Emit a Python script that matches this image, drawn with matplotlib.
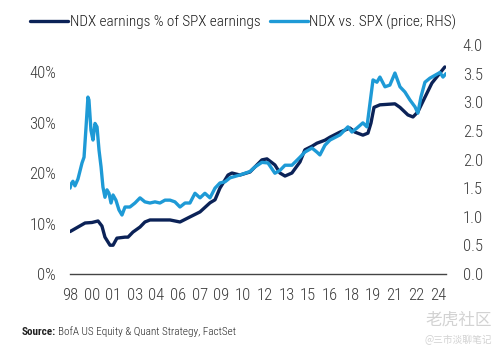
import matplotlib
matplotlib.use("Agg")
import matplotlib.pyplot as plt
from matplotlib import font_manager

# NDX earnings as % of SPX earnings (left axis)
earn_year = [1998.92, 1999.47, 1999.96, 2000.44, 2000.86, 2001.13, 2001.34, 2001.69, 2001.90,
             2002.17, 2002.73, 2002.94, 2003.28, 2003.77, 2004.11, 2004.46, 2005.15, 2005.85,
             2006.54, 2007.23, 2007.93, 2008.62, 2008.97, 2009.31, 2009.87, 2010.14, 2010.70,
             2011.39, 2012.22, 2012.57, 2013.12, 2013.47, 2013.82, 2014.30, 2014.86, 2015.20,
             2015.69, 2016.03, 2016.59, 2016.94, 2017.63, 2018.32, 2018.67, 2019.22, 2019.57,
             2019.78, 2019.99, 2020.40, 2021.44, 2021.79, 2022.34, 2022.69, 2023.03, 2023.52,
             2024.00, 2024.56, 2024.90]
earn_pct = [8.4, 9.3, 10.1, 10.2, 10.5, 9.5, 7.3, 5.7, 5.7,
            7.1, 7.3, 7.3, 8.3, 9.3, 10.3, 10.7, 10.7, 10.7,
            10.3, 11.3, 12.3, 14.1, 14.7, 17.0, 19.6, 20.0, 19.6,
            20.2, 22.6, 22.8, 21.6, 20.0, 19.4, 20.0, 22.2, 24.6,
            25.3, 25.9, 26.5, 27.1, 28.1, 28.9, 28.1, 27.5, 27.9,
            29.9, 33.0, 33.5, 33.7, 33.0, 31.5, 31.1, 32.1, 35.0,
            37.8, 39.8, 41.0]

# NDX vs SPX relative price (right axis)
px_year = [1998.92, 1998.99, 1999.12, 1999.26, 1999.47, 1999.75, 1999.89, 2000.03, 2000.16,
           2000.23, 2000.37, 2000.51, 2000.65, 2000.79, 2000.93, 2001.07, 2001.20, 2001.34,
           2001.48, 2001.62, 2001.76, 2001.90, 2002.10, 2002.31, 2002.52, 2002.73, 2003.07,
           2003.42, 2003.77, 2004.11, 2004.46, 2004.81, 2005.15, 2005.50, 2005.85, 2006.19,
           2006.54, 2006.89, 2007.23, 2007.58, 2007.93, 2008.27, 2008.62, 2008.97, 2009.31,
           2009.66, 2010.01, 2010.70, 2011.39, 2011.74, 2012.22, 2012.64, 2013.12, 2013.47,
           2013.82, 2014.30, 2014.86, 2015.20, 2015.69, 2016.03, 2016.24, 2016.59, 2016.94,
           2017.63, 2018.18, 2018.46, 2018.81, 2019.22, 2019.50, 2019.71, 2019.92, 2020.19,
           2020.40, 2020.75, 2021.09, 2021.44, 2021.79, 2022.13, 2022.48, 2022.83, 2023.03,
           2023.24, 2023.52, 2023.86, 2024.21, 2024.56, 2024.77, 2024.98]
px_ratio = [1.50, 1.57, 1.62, 1.54, 1.66, 1.94, 2.04, 2.57, 3.09,
            3.04, 2.51, 2.34, 2.63, 2.57, 2.16, 1.87, 1.52, 1.34,
            1.47, 1.41, 1.24, 1.38, 1.29, 1.12, 1.03, 1.17, 1.17,
            1.24, 1.33, 1.26, 1.24, 1.26, 1.24, 1.29, 1.29, 1.26,
            1.17, 1.24, 1.24, 1.41, 1.33, 1.41, 1.33, 1.50, 1.59,
            1.61, 1.68, 1.73, 1.79, 1.87, 1.95, 1.94, 1.76, 1.81,
            1.90, 1.90, 2.04, 2.13, 2.20, 2.13, 2.08, 2.25, 2.34,
            2.43, 2.57, 2.48, 2.55, 2.64, 2.57, 2.98, 3.39, 3.35,
            3.44, 3.27, 3.30, 3.51, 3.27, 3.18, 3.04, 2.92, 2.81,
            3.09, 3.35, 3.42, 3.47, 3.52, 3.44, 3.50]

xtick_pos = [1998.917 + 1.5 * i for i in range(18)]
xtick_labels = ['98', '00', '01', '03', '04', '06', '07', '09', '10',
                '12', '13', '15', '16', '18', '19', '21', '22', '24']
left_ticks = [0, 10, 20, 30, 40]
right_ticks = [0.0, 0.5, 1.0, 1.5, 2.0, 2.5, 3.0, 3.5, 4.0]

# a narrow face if one is around, else Roboto
fonts = font_manager.fontManager.ttflist
names = {f.name for f in fonts}
base = 'Roboto'
for cand in ['Liberation Sans Narrow', 'Roboto Condensed', 'Open Sans Condensed']:
    if cand in names:
        base = cand
        break
light_ok = any(f.name == base and f.weight in (300, 'light') for f in fonts)
plt.rcParams['font.family'] = [base, 'DejaVu Sans']
if light_ok:
    plt.rcParams['font.weight'] = 'light'

dark = '#0b2257'
light = '#1e9ad6'
txt = '#3a3a3a'

fig = plt.figure(figsize=(4.99, 3.52), dpi=100)
ax = fig.add_axes([70 / 499, 1 - 274 / 352, 376 / 499, 229 / 352])
ax2 = ax.twinx()

l1, = ax.plot(earn_year, earn_pct, color=dark, lw=2.4, solid_capstyle='round')
l2, = ax2.plot(px_year, px_ratio, color=light, lw=2.4, solid_capstyle='round')

ax.set_xlim(1998.92, 2024.98)
ax.set_ylim(0, 45.35)
ax2.set_ylim(0, 4.0)

ax.set_xticks(xtick_pos)
ax.set_xticklabels(xtick_labels)
ax.set_yticks(left_ticks)
ax.set_yticklabels([f'{v}%' for v in left_ticks])
ax2.set_yticks(right_ticks)
ax2.set_yticklabels([f'{v:.1f}' for v in right_ticks])

for a in (ax, ax2):
    for s in a.spines.values():
        s.set_visible(False)
    a.tick_params(length=0, labelsize=12, colors=txt)
ax.spines['bottom'].set_visible(True)
ax.spines['bottom'].set_color('#444444')
ax.spines['bottom'].set_linewidth(1.0)
ax.tick_params(axis='x', pad=10)
ax.tick_params(axis='y', pad=10)
ax2.tick_params(axis='y', pad=12)

fig.legend([l1, l2], ['NDX earnings % of SPX earnings', 'NDX vs. SPX (price; RHS)'],
           loc='center left', bbox_to_anchor=(30 / 499, 1 - 22 / 352), ncol=2, frameon=False,
           fontsize=11, handlelength=2.5, handletextpad=0.1, columnspacing=0.6,
           borderpad=0, borderaxespad=0, labelcolor='#1a1a1a')

t1 = fig.text(22 / 499, 1 - 332 / 352, 'Source:', fontsize=8, fontweight='bold',
              color='#222222', va='center')
fig.canvas.draw()
bb = t1.get_window_extent()
fig.text(bb.x1 / fig.bbox.width + 0.004, 1 - 332 / 352,
         'BofA US Equity & Quant Strategy, FactSet', fontsize=8, color='#222222', va='center')

# watermark
fig.text(492 / 499, 1 - 320 / 352, '老虎社区', fontsize=12, color='#d2d2d2', ha='right', va='center',
         family=['Noto Sans CJK SC', 'DejaVu Sans'])
fig.text(492 / 499, 1 - 340 / 352, '@三市淡聊笔记', fontsize=7, color='#d2d2d2', ha='right', va='center',
         family=['Noto Sans CJK SC', 'DejaVu Sans'])

fig.savefig('out.png', dpi=100)
